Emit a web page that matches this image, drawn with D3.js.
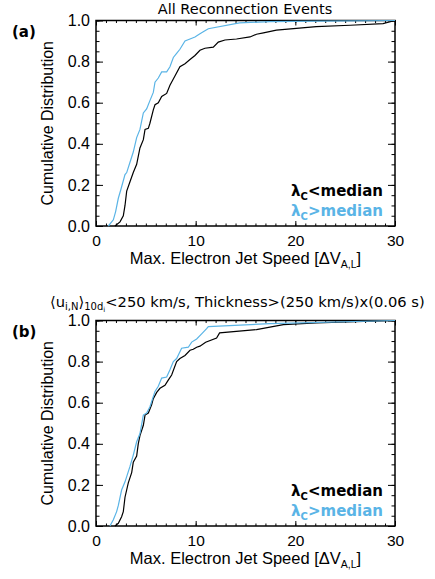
<!DOCTYPE html>
<html>
<head>
<meta charset="utf-8">
<script src="https://cdn.jsdelivr.net/npm/d3@7"></script>
<style>
  body { margin: 0; background: #fff; }
  svg { display: block; }
  .axis text { font-family: "Liberation Sans", Arial, sans-serif; }
</style>
</head>
<body>
<svg id="chart" width="435" height="579"></svg>
<script>
// panel (a): all reconnection events
const allLowX  = [1.9, 2.41, 2.74, 2.91, 3.08, 3.41, 3.74, 4.08, 4.41, 4.75, 4.92, 5.25, 5.41, 5.75, 5.92, 6.25, 6.59, 7.09, 7.42, 7.92, 8.42, 8.93, 9.43, 9.93, 10.43, 10.93, 11.77, 12.27, 12.94, 14.1, 15.45, 16.1, 16.8, 18.1, 22.1, 25.5, 28.8, 30];
const allLowY  = [0, 0.02, 0.05, 0.10, 0.17, 0.215, 0.26, 0.30, 0.38, 0.42, 0.47, 0.475, 0.50, 0.565, 0.59, 0.60, 0.63, 0.645, 0.685, 0.73, 0.775, 0.79, 0.81, 0.83, 0.855, 0.865, 0.87, 0.895, 0.905, 0.91, 0.92, 0.933, 0.94, 0.953, 0.97, 0.977, 0.985, 1.0];
const allHighX = [1.24, 1.74, 1.97, 2.24, 2.51, 2.91, 3.08, 3.41, 3.74, 4.08, 4.41, 4.75, 5.08, 5.41, 5.75, 5.92, 6.25, 6.59, 7.09, 7.42, 7.76, 8.09, 8.42, 8.93, 9.43, 9.93, 10.43, 10.93, 11.27, 14.4, 17.45, 30];
const allHighY = [0, 0.03, 0.07, 0.135, 0.18, 0.25, 0.26, 0.31, 0.36, 0.43, 0.47, 0.55, 0.57, 0.61, 0.65, 0.70, 0.72, 0.75, 0.75, 0.775, 0.82, 0.84, 0.86, 0.90, 0.91, 0.92, 0.935, 0.95, 0.96, 0.988, 0.995, 1.0];

// panel (b): slow inflow, thick events
const selLowX  = [1.9, 2.24, 2.57, 2.74, 2.91, 3.24, 3.58, 3.74, 4.08, 4.24, 4.41, 4.75, 4.92, 5.25, 5.58, 5.75, 6.09, 6.42, 6.92, 7.25, 7.59, 8.09, 8.42, 8.93, 9.43, 9.76, 10.1, 10.43, 11.0, 12.1, 12.4, 16.1, 17.45, 18.8, 22.1, 30];
const selLowY  = [0, 0.013, 0.045, 0.07, 0.14, 0.21, 0.26, 0.31, 0.34, 0.40, 0.44, 0.49, 0.54, 0.55, 0.59, 0.62, 0.65, 0.67, 0.685, 0.71, 0.735, 0.80, 0.815, 0.83, 0.855, 0.86, 0.87, 0.875, 0.894, 0.915, 0.94, 0.956, 0.968, 0.98, 0.988, 1.0];
const selHighX = [1.4, 1.74, 2.07, 2.24, 2.57, 2.91, 3.08, 3.41, 3.74, 4.08, 4.41, 4.75, 5.08, 5.41, 5.92, 6.25, 6.59, 7.09, 7.42, 7.76, 8.09, 8.59, 9.26, 9.6, 10.1, 10.6, 11.1, 11.27, 17.45, 30];
const selHighY = [0, 0.03, 0.07, 0.10, 0.175, 0.215, 0.24, 0.29, 0.345, 0.41, 0.45, 0.54, 0.55, 0.58, 0.655, 0.68, 0.72, 0.725, 0.76, 0.80, 0.815, 0.865, 0.87, 0.895, 0.91, 0.935, 0.96, 0.97, 0.985, 1.0];

const xTicks = [0, 10, 20, 30];
const yTicks = [0, 0.2, 0.4, 0.6, 0.8, 1.0];
const lowColor = "#000000", highColor = "#5ab4e6";

const svg = d3.select("#chart");
const plotW = {left: 96, right: 395};

function zip(xs, ys) { return xs.map((x, i) => [x, ys[i]]); }

function drawPanel(top, bottom, tag, low, high) {
    const x = d3.scaleLinear().domain([0, 30]).range([plotW.left, plotW.right]);
    const y = d3.scaleLinear().domain([0, 1]).range([bottom, top]);
    const g = svg.append("g");

    // minor ticks all round
    const minorX = d3.range(0, 31, 1), minorY = d3.range(0, 1.001, 0.05);
    g.append("g").attr("class", "axis").attr("transform", `translate(0,${bottom})`)
        .call(d3.axisBottom(x).tickValues(minorX).tickSize(-2.5).tickFormat(""));
    g.append("g").attr("class", "axis").attr("transform", `translate(0,${top})`)
        .call(d3.axisTop(x).tickValues(minorX).tickSize(-2.5).tickFormat(""));
    g.append("g").attr("class", "axis").attr("transform", `translate(${plotW.left},0)`)
        .call(d3.axisLeft(y).tickValues(minorY).tickSize(-3.5).tickFormat(""));
    g.append("g").attr("class", "axis").attr("transform", `translate(${plotW.right},0)`)
        .call(d3.axisRight(y).tickValues(minorY).tickSize(-3.5).tickFormat(""));

    // major ticks + labels
    const ax = g.append("g").attr("class", "axis").attr("transform", `translate(0,${bottom})`)
        .call(d3.axisBottom(x).tickValues(xTicks).tickSize(-5).tickPadding(9).tickFormat(d3.format("d")));
    g.append("g").attr("class", "axis").attr("transform", `translate(0,${top})`)
        .call(d3.axisTop(x).tickValues(xTicks).tickSize(-5).tickFormat(""));
    const ay = g.append("g").attr("class", "axis").attr("transform", `translate(${plotW.left},0)`)
        .call(d3.axisLeft(y).tickValues(yTicks).tickSize(-7).tickPadding(6).tickFormat(d3.format(".1f")));
    g.append("g").attr("class", "axis").attr("transform", `translate(${plotW.right},0)`)
        .call(d3.axisRight(y).tickValues(yTicks).tickSize(-7).tickFormat(""));

    g.selectAll(".axis path.domain").remove();
    g.selectAll(".axis line").attr("stroke", "#000").attr("stroke-width", 1);
    ax.selectAll("text").attr("font-size", 15.5).attr("fill", "#000");
    ay.selectAll("text").attr("font-size", 16).attr("fill", "#000");

    g.append("rect")
        .attr("x", plotW.left).attr("y", top)
        .attr("width", plotW.right - plotW.left).attr("height", bottom - top)
        .attr("fill", "none").attr("stroke", "#000").attr("stroke-width", 1.5);

    const line = d3.line().x(d => x(d[0])).y(d => y(d[1]));
    g.append("path").datum(low).attr("d", line)
        .attr("fill", "none").attr("stroke", lowColor).attr("stroke-width", 1.2);
    g.append("path").datum(high).attr("d", line)
        .attr("fill", "none").attr("stroke", highColor).attr("stroke-width", 1.2);

    // axis titles
    const xt = g.append("text")
        .attr("x", (plotW.left + plotW.right) / 2).attr("y", bottom + 38)
        .attr("text-anchor", "middle")
        .attr("font-family", "Liberation Sans, Arial, sans-serif").attr("font-size", 16.5);
    xt.append("tspan").text("Max. Electron Jet Speed [\u0394V");
    xt.append("tspan").attr("font-size", 10.5).attr("dy", 4).text("A,L");
    xt.append("tspan").attr("dy", -4).text("]");

    g.append("text")
        .attr("transform", `translate(53,${(top + bottom) / 2}) rotate(-90)`)
        .attr("text-anchor", "middle")
        .attr("font-family", "Liberation Sans, Arial, sans-serif").attr("font-size", 16)
        .text("Cumulative Distribution");

    g.append("text")
        .attr("x", 12).attr("y", top + 16)
        .attr("font-family", "DejaVu Sans, sans-serif").attr("font-weight", "bold").attr("font-size", 15)
        .text(tag);

    // legend
    const legend = [["<median", lowColor], [">median", highColor]];
    legend.forEach((d, i) => {
        const t = g.append("text")
            .attr("x", 383).attr("y", bottom - 30 + i * 20)
            .attr("text-anchor", "end")
            .attr("font-family", "DejaVu Sans, sans-serif").attr("font-weight", "bold").attr("font-size", 15)
            .attr("fill", d[1]);
        t.append("tspan").text("\u03bb");
        t.append("tspan").attr("font-size", 10).attr("dy", 4).text("C");
        t.append("tspan").attr("dy", -4).text(d[0]);
    });
    return g;
}

const ga = drawPanel(20.5, 226, "(a)", zip(allLowX, allLowY), zip(allHighX, allHighY));
const gb = drawPanel(320.5, 526, "(b)", zip(selLowX, selLowY), zip(selHighX, selHighY));

svg.append("text")
    .attr("x", 245).attr("y", 14)
    .attr("text-anchor", "middle")
    .attr("font-family", "DejaVu Sans, sans-serif").attr("font-size", 14.5)
    .text("All Reconnection Events");

const st = svg.append("text")
    .attr("x", 50).attr("y", 307)
    .attr("font-family", "DejaVu Sans, sans-serif").attr("font-size", 14.7);
st.append("tspan").text("\u27e8u");
st.append("tspan").attr("font-size", 10).attr("dy", 3).text("i,N");
st.append("tspan").attr("dy", -3).text("\u27e9");
st.append("tspan").attr("font-size", 10).attr("dy", 3).text("10d");
st.append("tspan").attr("font-size", 7).attr("dy", 2).text("i");
st.append("tspan").attr("dy", -5).text("<250 km/s, Thickness>(250 km/s)x(0.06 s)");
</script>
</body>
</html>
